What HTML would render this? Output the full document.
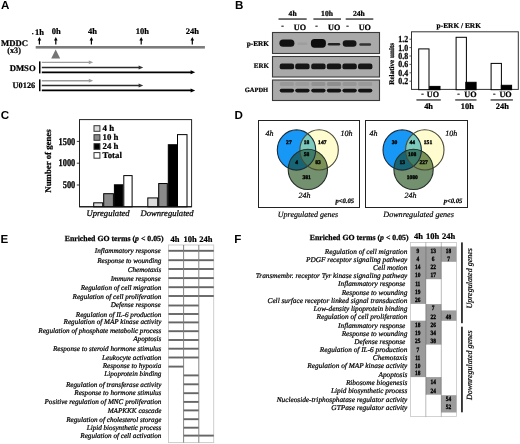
<!DOCTYPE html>
<html><head><meta charset="utf-8"><title>Figure</title>
<style>
html,body{margin:0;padding:0;background:#fff;}
body{width:520px;height:444px;overflow:hidden;}
svg{display:block;font-family:"Liberation Serif", serif;will-change:transform;}
</style></head>
<body>
<svg width="520" height="444" viewBox="0 0 520 444" text-rendering="geometricPrecision">
<rect width="520" height="444" fill="#fff"/>
<text x="1.0" y="9.0" font-size="11.6" font-weight="bold" font-family='"Liberation Sans", sans-serif'>A</text>
<text x="235.0" y="9.0" font-size="11.6" font-weight="bold" font-family='"Liberation Sans", sans-serif'>B</text>
<text x="0.7" y="119.2" font-size="11.6" font-weight="bold" font-family='"Liberation Sans", sans-serif'>C</text>
<text x="234.5" y="119.2" font-size="11.6" font-weight="bold" font-family='"Liberation Sans", sans-serif'>D</text>
<text x="0.4" y="242.7" font-size="11.6" font-weight="bold" font-family='"Liberation Sans", sans-serif'>E</text>
<text x="234.3" y="242.7" font-size="11.6" font-weight="bold" font-family='"Liberation Sans", sans-serif'>F</text>
<text x="39.6" y="35.4" font-size="8.5" font-weight="bold" text-anchor="middle" stroke="#000" stroke-width="0.22">1h</text>
<rect x="32.0" y="33.0" width="1.4" height="1.3" fill="#222" stroke="none" stroke-width="1"/>
<text x="56.3" y="34.1" font-size="8.5" font-weight="bold" text-anchor="middle" stroke="#000" stroke-width="0.22">0h</text>
<text x="92.4" y="34.1" font-size="8.5" font-weight="bold" text-anchor="middle" stroke="#000" stroke-width="0.22">4h</text>
<text x="142.3" y="34.1" font-size="8.5" font-weight="bold" text-anchor="middle" stroke="#000" stroke-width="0.22">10h</text>
<text x="192.3" y="34.1" font-size="8.5" font-weight="bold" text-anchor="middle" stroke="#000" stroke-width="0.22">24h</text>
<line x1="39.4" y1="39.5" x2="39.4" y2="44.6" stroke="#000" stroke-width="1.2"/>
<polygon points="37.6,40.5 41.199999999999996,40.5 39.4,36.9" fill="#000"/>
<line x1="55.8" y1="39.5" x2="55.8" y2="44.6" stroke="#000" stroke-width="1.2"/>
<polygon points="54.0,40.5 57.599999999999994,40.5 55.8,36.9" fill="#000"/>
<line x1="91.4" y1="39.5" x2="91.4" y2="44.6" stroke="#000" stroke-width="1.2"/>
<polygon points="89.60000000000001,40.5 93.2,40.5 91.4,36.9" fill="#000"/>
<line x1="141.2" y1="39.5" x2="141.2" y2="44.6" stroke="#000" stroke-width="1.2"/>
<polygon points="139.39999999999998,40.5 143.0,40.5 141.2,36.9" fill="#000"/>
<line x1="192.3" y1="39.5" x2="192.3" y2="44.6" stroke="#000" stroke-width="1.2"/>
<polygon points="190.5,40.5 194.10000000000002,40.5 192.3,36.9" fill="#000"/>
<rect x="35.7" y="46.0" width="169.2" height="2.6" fill="#7c7c7c" stroke="none" stroke-width="1"/>
<text x="1.0" y="46.1" font-size="8.7" font-weight="bold" stroke="#000" stroke-width="0.22">MDDC</text>
<text x="14.1" y="52.6" font-size="8.2" font-weight="bold" text-anchor="middle" stroke="#000" stroke-width="0.22">(x3)</text>
<polygon points="51.2,58.4 60.2,58.4 55.7,49.6" fill="#747474"/>
<text x="35.7" y="70.9" font-size="8.7" font-weight="bold" text-anchor="end" stroke="#000" stroke-width="0.22">DMSO</text>
<text x="35.2" y="88.2" font-size="8.3" font-weight="bold" text-anchor="end" stroke="#000" stroke-width="0.22">U0126</text>
<rect x="39.0" y="61.4" width="1.5" height="12.000000000000007" fill="#000" stroke="none" stroke-width="1"/>
<line x1="41.8" y1="62.35" x2="89.6" y2="62.35" stroke="#9c9c9c" stroke-width="1.4"/>
<polygon points="88.8,60.45 88.8,64.25 93.2,62.35" fill="#9c9c9c"/>
<line x1="41.8" y1="67.5" x2="139.5" y2="67.5" stroke="#2a2a2a" stroke-width="1.4"/>
<polygon points="138.6,65.5 138.6,69.5 143.2,67.5" fill="#333"/>
<line x1="41.8" y1="72.35" x2="191.5" y2="72.35" stroke="#000" stroke-width="1.6"/>
<polygon points="190.6,70.35 190.6,74.35 195.2,72.35" fill="#000"/>
<rect x="39.0" y="79.4" width="1.5" height="11.799999999999997" fill="#000" stroke="none" stroke-width="1"/>
<line x1="41.8" y1="80.7" x2="89.6" y2="80.7" stroke="#9c9c9c" stroke-width="1.4"/>
<polygon points="88.8,78.8 88.8,82.60000000000001 93.2,80.7" fill="#9c9c9c"/>
<line x1="41.8" y1="85.45" x2="139.5" y2="85.45" stroke="#2a2a2a" stroke-width="1.4"/>
<polygon points="138.6,83.45 138.6,87.45 143.2,85.45" fill="#333"/>
<line x1="41.8" y1="90.4" x2="191.5" y2="90.4" stroke="#000" stroke-width="1.6"/>
<polygon points="190.6,88.4 190.6,92.4 195.2,90.4" fill="#000"/>
<text x="292.6" y="15.8" font-size="7.6" font-weight="bold" text-anchor="middle" stroke="#000" stroke-width="0.22">4h</text>
<text x="327.0" y="15.8" font-size="7.6" font-weight="bold" text-anchor="middle" stroke="#000" stroke-width="0.22">10h</text>
<text x="358.8" y="15.8" font-size="7.6" font-weight="bold" text-anchor="middle" stroke="#000" stroke-width="0.22">24h</text>
<rect x="278.5" y="18.3" width="28.19999999999999" height="1.5" fill="#444" stroke="none" stroke-width="1"/>
<rect x="313.4" y="18.3" width="27.600000000000023" height="1.5" fill="#444" stroke="none" stroke-width="1"/>
<rect x="345.7" y="18.3" width="27.600000000000023" height="1.5" fill="#444" stroke="none" stroke-width="1"/>
<text x="282.6" y="28.3" font-size="7.6" font-weight="bold" text-anchor="middle" stroke="#000" stroke-width="0.22">-</text>
<text x="316.5" y="28.3" font-size="7.6" font-weight="bold" text-anchor="middle" stroke="#000" stroke-width="0.22">-</text>
<text x="347.4" y="28.3" font-size="7.6" font-weight="bold" text-anchor="middle" stroke="#000" stroke-width="0.22">-</text>
<text x="300.0" y="29.7" font-size="8.2" font-weight="bold" text-anchor="middle" stroke="#000" stroke-width="0.22">UO</text>
<text x="334.2" y="29.7" font-size="8.2" font-weight="bold" text-anchor="middle" stroke="#000" stroke-width="0.22">UO</text>
<text x="364.8" y="29.7" font-size="8.2" font-weight="bold" text-anchor="middle" stroke="#000" stroke-width="0.22">UO</text>
<rect x="272.5" y="32.5" width="107.0" height="21.0" fill="#a9a9a9" stroke="#3a3a3a" stroke-width="1.1"/>
<rect x="272.5" y="56.5" width="107.0" height="20.5" fill="#a9a9a9" stroke="#3a3a3a" stroke-width="1.1"/>
<rect x="272.5" y="80.0" width="107.0" height="20.5" fill="#a9a9a9" stroke="#3a3a3a" stroke-width="1.1"/>
<text x="269.0" y="46.0" font-size="7.3" font-weight="bold" text-anchor="end" stroke="#000" stroke-width="0.22">p-ERK</text>
<text x="269.0" y="67.8" font-size="7.0" font-weight="bold" text-anchor="end" stroke="#000" stroke-width="0.22">ERK</text>
<text x="268.2" y="91.6" font-size="6.5" font-weight="bold" text-anchor="end" stroke="#000" stroke-width="0.22">GAPDH</text>
<rect x="279.4" y="39.6" width="15.0" height="7.2" rx="3.6" ry="3.6" fill="#111" opacity="1.0"/>
<rect x="297.4" y="42.599999999999994" width="10.0" height="2.4" rx="1.2" ry="1.2" fill="#9a9a9a" opacity="0.7"/>
<rect x="310.9" y="39.1" width="15.0" height="8.6" rx="3.6" ry="3.6" fill="#0c0c0c" opacity="1.0"/>
<rect x="327.8" y="42.900000000000006" width="12.4" height="2.6" rx="1.3" ry="1.3" fill="#222" opacity="1.0"/>
<rect x="342.70000000000005" y="40.3" width="13.8" height="6.4" rx="3.2" ry="3.2" fill="#151515" opacity="1.0"/>
<rect x="359.3" y="43.15" width="11.8" height="2.5" rx="1.25" ry="1.25" fill="#333" opacity="1.0"/>
<rect x="279.7" y="63.45" width="14.4" height="5.9" rx="2.2" ry="2.2" fill="#161616" opacity="1.0"/>
<rect x="295.2" y="63.45" width="14.4" height="5.9" rx="2.2" ry="2.2" fill="#161616" opacity="1.0"/>
<rect x="311.2" y="63.45" width="14.4" height="5.9" rx="2.2" ry="2.2" fill="#161616" opacity="1.0"/>
<rect x="326.8" y="63.45" width="14.4" height="5.9" rx="2.2" ry="2.2" fill="#161616" opacity="1.0"/>
<rect x="342.40000000000003" y="63.45" width="14.4" height="5.9" rx="2.2" ry="2.2" fill="#161616" opacity="1.0"/>
<rect x="358.0" y="63.45" width="14.4" height="5.9" rx="2.2" ry="2.2" fill="#161616" opacity="1.0"/>
<rect x="279.9" y="82.1" width="14.0" height="3.8" rx="1.5" ry="1.5" fill="#999" opacity="1.0"/>
<rect x="295.4" y="82.1" width="14.0" height="3.8" rx="1.5" ry="1.5" fill="#9c9c9c" opacity="1.0"/>
<rect x="311.4" y="82.1" width="14.0" height="3.8" rx="1.5" ry="1.5" fill="#929292" opacity="1.0"/>
<rect x="327.0" y="82.1" width="14.0" height="3.8" rx="1.5" ry="1.5" fill="#8e8e8e" opacity="1.0"/>
<rect x="342.6" y="82.1" width="14.0" height="3.8" rx="1.5" ry="1.5" fill="#969696" opacity="1.0"/>
<rect x="358.2" y="82.1" width="14.0" height="3.8" rx="1.5" ry="1.5" fill="#9a9a9a" opacity="1.0"/>
<rect x="279.7" y="88.8" width="14.4" height="3.6" rx="1.8" ry="1.8" fill="#121212" opacity="1.0"/>
<rect x="295.2" y="88.8" width="14.4" height="3.6" rx="1.8" ry="1.8" fill="#121212" opacity="1.0"/>
<rect x="311.2" y="88.8" width="14.4" height="3.6" rx="1.8" ry="1.8" fill="#121212" opacity="1.0"/>
<rect x="326.8" y="88.8" width="14.4" height="3.6" rx="1.8" ry="1.8" fill="#121212" opacity="1.0"/>
<rect x="342.40000000000003" y="88.8" width="14.4" height="3.6" rx="1.8" ry="1.8" fill="#121212" opacity="1.0"/>
<rect x="358.0" y="88.8" width="14.4" height="3.6" rx="1.8" ry="1.8" fill="#121212" opacity="1.0"/>
<text x="458.8" y="28.3" font-size="7.4" font-weight="bold" text-anchor="middle" stroke="#000" stroke-width="0.22">p-ERK / ERK</text>
<rect x="411.5" y="31.8" width="106.8" height="57.6" fill="#fff" stroke="#333" stroke-width="1"/>
<text transform="translate(408.2,42.20) scale(1,1.17)" font-size="7.9" font-weight="bold" text-anchor="end" stroke="#000" stroke-width="0.22">1.2</text>
<line x1="409.4" y1="39.199999999999996" x2="411.5" y2="39.199999999999996" stroke="#333" stroke-width="0.8"/>
<text transform="translate(408.2,50.60) scale(1,1.17)" font-size="7.9" font-weight="bold" text-anchor="end" stroke="#000" stroke-width="0.22">1.0</text>
<line x1="409.4" y1="47.599999999999994" x2="411.5" y2="47.599999999999994" stroke="#333" stroke-width="0.8"/>
<text transform="translate(408.2,59.00) scale(1,1.17)" font-size="7.9" font-weight="bold" text-anchor="end" stroke="#000" stroke-width="0.22">0.8</text>
<line x1="409.4" y1="55.99999999999999" x2="411.5" y2="55.99999999999999" stroke="#333" stroke-width="0.8"/>
<text transform="translate(408.2,67.40) scale(1,1.17)" font-size="7.9" font-weight="bold" text-anchor="end" stroke="#000" stroke-width="0.22">0.6</text>
<line x1="409.4" y1="64.39999999999999" x2="411.5" y2="64.39999999999999" stroke="#333" stroke-width="0.8"/>
<text transform="translate(408.2,75.80) scale(1,1.17)" font-size="7.9" font-weight="bold" text-anchor="end" stroke="#000" stroke-width="0.22">0.4</text>
<line x1="409.4" y1="72.8" x2="411.5" y2="72.8" stroke="#333" stroke-width="0.8"/>
<text transform="translate(408.2,84.20) scale(1,1.17)" font-size="7.9" font-weight="bold" text-anchor="end" stroke="#000" stroke-width="0.22">0.2</text>
<line x1="409.4" y1="81.19999999999999" x2="411.5" y2="81.19999999999999" stroke="#333" stroke-width="0.8"/>
<text transform="translate(393.6,63.8) rotate(-90)" font-size="7.15" font-weight="bold" text-anchor="middle" stroke="#000" stroke-width="0.22">Relative units</text>
<rect x="418.7" y="48.9" width="10.3" height="40.800000000000004" fill="#fff" stroke="#000" stroke-width="1"/>
<rect x="429.7" y="86.4" width="10.3" height="3.299999999999997" fill="#000" stroke="#000" stroke-width="1"/>
<rect x="456.1" y="37.3" width="10.3" height="52.400000000000006" fill="#fff" stroke="#000" stroke-width="1"/>
<rect x="465.8" y="82.3" width="10.3" height="7.400000000000006" fill="#000" stroke="#000" stroke-width="1"/>
<rect x="491.1" y="63.4" width="10.3" height="26.300000000000004" fill="#fff" stroke="#000" stroke-width="1"/>
<rect x="501.3" y="85.3" width="10.3" height="4.400000000000006" fill="#000" stroke="#000" stroke-width="1"/>
<text x="422.5" y="95.9" font-size="7.6" font-weight="bold" text-anchor="middle" stroke="#000" stroke-width="0.22">-</text>
<text x="433.0" y="97.4" font-size="8.2" font-weight="bold" text-anchor="middle" stroke="#000" stroke-width="0.22">UO</text>
<rect x="416.4" y="99.35" width="24.400000000000034" height="1.2" fill="#222" stroke="none" stroke-width="1"/>
<text x="428.6" y="109.0" font-size="8.4" font-weight="bold" text-anchor="middle" stroke="#000" stroke-width="0.22">4h</text>
<text x="458.6" y="95.9" font-size="7.6" font-weight="bold" text-anchor="middle" stroke="#000" stroke-width="0.22">-</text>
<text x="470.5" y="97.4" font-size="8.2" font-weight="bold" text-anchor="middle" stroke="#000" stroke-width="0.22">UO</text>
<rect x="455.2" y="99.35" width="21.30000000000001" height="1.2" fill="#222" stroke="none" stroke-width="1"/>
<text x="467.3" y="109.0" font-size="8.4" font-weight="bold" text-anchor="middle" stroke="#000" stroke-width="0.22">10h</text>
<text x="494.2" y="95.9" font-size="7.6" font-weight="bold" text-anchor="middle" stroke="#000" stroke-width="0.22">-</text>
<text x="505.6" y="97.4" font-size="8.2" font-weight="bold" text-anchor="middle" stroke="#000" stroke-width="0.22">UO</text>
<rect x="490.6" y="99.35" width="22.299999999999955" height="1.2" fill="#222" stroke="none" stroke-width="1"/>
<text x="502.3" y="109.0" font-size="8.4" font-weight="bold" text-anchor="middle" stroke="#000" stroke-width="0.22">24h</text>
<rect x="79.5" y="119.6" width="112.1" height="87.2" fill="#fff" stroke="#222" stroke-width="1"/>
<text transform="translate(51.4,161) rotate(-90)" font-size="8.8" font-weight="bold" text-anchor="middle" stroke="#000" stroke-width="0.22">Number of genes</text>
<text transform="translate(75.3,144.50) scale(1,1.22)" font-size="8.4" font-weight="bold" text-anchor="end" stroke="#000" stroke-width="0.22">1500</text>
<line x1="76.8" y1="141.4" x2="79.5" y2="141.4" stroke="#222" stroke-width="0.9"/>
<text transform="translate(75.3,166.30) scale(1,1.22)" font-size="8.4" font-weight="bold" text-anchor="end" stroke="#000" stroke-width="0.22">1000</text>
<line x1="76.8" y1="163.20000000000002" x2="79.5" y2="163.20000000000002" stroke="#222" stroke-width="0.9"/>
<text transform="translate(75.3,188.10) scale(1,1.22)" font-size="8.4" font-weight="bold" text-anchor="end" stroke="#000" stroke-width="0.22">500</text>
<line x1="76.8" y1="185.0" x2="79.5" y2="185.0" stroke="#222" stroke-width="0.9"/>
<rect x="93.7" y="202.8092" width="9.0" height="3.9908000000000072" fill="#dcdcdc" stroke="#000" stroke-width="1"/>
<rect x="147.8" y="197.92600000000002" width="9.899999999999977" height="8.873999999999995" fill="#dcdcdc" stroke="#000" stroke-width="1"/>
<rect x="103.7" y="193.69680000000002" width="9.700000000000003" height="13.103199999999987" fill="#8a8a8a" stroke="#000" stroke-width="1"/>
<rect x="158.7" y="183.538" width="8.600000000000023" height="23.262" fill="#8a8a8a" stroke="#000" stroke-width="1"/>
<rect x="114.4" y="184.8024" width="8.399999999999991" height="21.997600000000006" fill="#000" stroke="#000" stroke-width="1"/>
<rect x="168.3" y="144.734" width="8.199999999999989" height="62.066" fill="#000" stroke="#000" stroke-width="1"/>
<rect x="123.8" y="175.6028" width="8.299999999999997" height="31.19720000000001" fill="#fff" stroke="#000" stroke-width="1"/>
<rect x="177.5" y="134.61880000000002" width="9.5" height="72.18119999999999" fill="#fff" stroke="#000" stroke-width="1"/>
<line x1="79.5" y1="206.8" x2="191.6" y2="206.8" stroke="#111" stroke-width="1.1"/>
<rect x="94.0" y="125.7" width="5.9" height="5.6" fill="#dcdcdc" stroke="#333" stroke-width="1"/>
<text x="102.6" y="131.4" font-size="8.8" font-weight="bold" stroke="#000" stroke-width="0.22">4 h</text>
<rect x="94.0" y="134.7" width="5.9" height="5.6" fill="#8a8a8a" stroke="#333" stroke-width="1"/>
<text x="102.6" y="140.39999999999998" font-size="8.8" font-weight="bold" stroke="#000" stroke-width="0.22">10 h</text>
<rect x="94.0" y="143.7" width="5.9" height="5.6" fill="#000" stroke="#333" stroke-width="1"/>
<text x="102.6" y="149.39999999999998" font-size="8.8" font-weight="bold" stroke="#000" stroke-width="0.22">24 h</text>
<rect x="94.0" y="152.6" width="5.9" height="5.6" fill="#fff" stroke="#333" stroke-width="1"/>
<text x="102.6" y="158.29999999999998" font-size="8.8" font-weight="bold" stroke="#000" stroke-width="0.22">Total</text>
<text x="108.1" y="215.6" font-size="8.6" font-style="italic" text-anchor="middle" stroke="#000" stroke-width="0.25">Upregulated</text>
<text x="167.1" y="215.6" font-size="8.6" font-style="italic" text-anchor="middle" stroke="#000" stroke-width="0.25">Downregulated</text>
<rect x="258.5" y="120.5" width="101.0" height="87.0" fill="#fff" stroke="#222" stroke-width="1"/>
<defs><clipPath id="v0b"><ellipse cx="296.5" cy="150.0" rx="19.2" ry="20.1" /></clipPath><clipPath id="v0y"><ellipse cx="319.1" cy="149.9" rx="19.2" ry="20.1" /></clipPath></defs>
<ellipse cx="296.5" cy="150.0" rx="19.2" ry="20.1" fill="#1898f6"/>
<ellipse cx="319.1" cy="149.9" rx="19.2" ry="20.1" fill="#fffdd0"/>
<ellipse cx="307.85" cy="169.4" rx="19.65" ry="20.15" fill="#73916f"/>
<g clip-path="url(#v0b)"><ellipse cx="319.1" cy="149.9" rx="19.2" ry="20.1" fill="#7ccabe"/></g>
<g clip-path="url(#v0b)"><ellipse cx="307.85" cy="169.4" rx="19.65" ry="20.15" fill="#176574"/></g>
<g clip-path="url(#v0y)"><ellipse cx="307.85" cy="169.4" rx="19.65" ry="20.15" fill="#7a9256"/></g>
<g clip-path="url(#v0b)"><g clip-path="url(#v0y)"><ellipse cx="307.85" cy="169.4" rx="19.65" ry="20.15" fill="#3c7c68"/></g></g>
<ellipse cx="296.5" cy="150.0" rx="19.2" ry="20.1" fill="none" stroke="#1c2c3c" stroke-width="1.1"/>
<ellipse cx="319.1" cy="149.9" rx="19.2" ry="20.1" fill="none" stroke="#4a4a36" stroke-width="1.1"/>
<ellipse cx="307.85" cy="169.4" rx="19.65" ry="20.15" fill="none" stroke="#25302a" stroke-width="1.1"/>
<text x="288.9" y="144.1" font-size="5.6" font-weight="bold" text-anchor="middle" stroke="#000" stroke-width="0.35">27</text>
<text x="306.5" y="144.20000000000002" font-size="5.6" font-weight="bold" text-anchor="middle" stroke="#000" stroke-width="0.35">18</text>
<text x="322.3" y="144.1" font-size="5.6" font-weight="bold" text-anchor="middle" stroke="#000" stroke-width="0.35">147</text>
<text x="306.5" y="156.1" font-size="5.6" font-weight="bold" text-anchor="middle" stroke="#000" stroke-width="0.35">58</text>
<text x="296.6" y="163.70000000000002" font-size="5.6" font-weight="bold" text-anchor="middle" stroke="#000" stroke-width="0.35">4</text>
<text x="318.0" y="163.9" font-size="5.6" font-weight="bold" text-anchor="middle" stroke="#000" stroke-width="0.35">83</text>
<text x="306.6" y="179.20000000000002" font-size="5.6" font-weight="bold" text-anchor="middle" stroke="#000" stroke-width="0.35">381</text>
<text x="265.4" y="136.0" font-size="8.0" font-style="italic" stroke="#000" stroke-width="0.22">4h</text>
<text x="352.6" y="135.6" font-size="8.0" font-style="italic" text-anchor="end" stroke="#000" stroke-width="0.22">10h</text>
<text x="304.6" y="198.2" font-size="8.0" font-style="italic" text-anchor="middle" stroke="#000" stroke-width="0.22">24h</text>
<text x="354.0" y="203.4" font-size="6.6" font-weight="bold" font-style="italic" text-anchor="end" stroke="#000" stroke-width="0.22">p&lt;0.05</text>
<rect x="365.5" y="120.5" width="102.0" height="87.0" fill="#fff" stroke="#222" stroke-width="1"/>
<defs><clipPath id="v105b"><ellipse cx="402.2" cy="150.0" rx="19.2" ry="20.1" /></clipPath><clipPath id="v105y"><ellipse cx="424.8" cy="149.9" rx="19.2" ry="20.1" /></clipPath></defs>
<ellipse cx="402.2" cy="150.0" rx="19.2" ry="20.1" fill="#1898f6"/>
<ellipse cx="424.8" cy="149.9" rx="19.2" ry="20.1" fill="#fffdd0"/>
<ellipse cx="413.55" cy="169.4" rx="19.65" ry="20.15" fill="#73916f"/>
<g clip-path="url(#v105b)"><ellipse cx="424.8" cy="149.9" rx="19.2" ry="20.1" fill="#7ccabe"/></g>
<g clip-path="url(#v105b)"><ellipse cx="413.55" cy="169.4" rx="19.65" ry="20.15" fill="#176574"/></g>
<g clip-path="url(#v105y)"><ellipse cx="413.55" cy="169.4" rx="19.65" ry="20.15" fill="#7a9256"/></g>
<g clip-path="url(#v105b)"><g clip-path="url(#v105y)"><ellipse cx="413.55" cy="169.4" rx="19.65" ry="20.15" fill="#3c7c68"/></g></g>
<ellipse cx="402.2" cy="150.0" rx="19.2" ry="20.1" fill="none" stroke="#1c2c3c" stroke-width="1.1"/>
<ellipse cx="424.8" cy="149.9" rx="19.2" ry="20.1" fill="none" stroke="#4a4a36" stroke-width="1.1"/>
<ellipse cx="413.55" cy="169.4" rx="19.65" ry="20.15" fill="none" stroke="#25302a" stroke-width="1.1"/>
<text x="394.59999999999997" y="144.1" font-size="5.6" font-weight="bold" text-anchor="middle" stroke="#000" stroke-width="0.35">30</text>
<text x="412.2" y="144.20000000000002" font-size="5.6" font-weight="bold" text-anchor="middle" stroke="#000" stroke-width="0.35">44</text>
<text x="428.0" y="144.1" font-size="5.6" font-weight="bold" text-anchor="middle" stroke="#000" stroke-width="0.35">151</text>
<text x="412.2" y="156.1" font-size="5.6" font-weight="bold" text-anchor="middle" stroke="#000" stroke-width="0.35">108</text>
<text x="402.3" y="163.70000000000002" font-size="5.6" font-weight="bold" text-anchor="middle" stroke="#000" stroke-width="0.35">13</text>
<text x="423.7" y="163.9" font-size="5.6" font-weight="bold" text-anchor="middle" stroke="#000" stroke-width="0.35">227</text>
<text x="412.3" y="179.20000000000002" font-size="5.6" font-weight="bold" text-anchor="middle" stroke="#000" stroke-width="0.35">1080</text>
<text x="369.4" y="135.6" font-size="8.0" font-style="italic" stroke="#000" stroke-width="0.22">4h</text>
<text x="457.2" y="135.9" font-size="8.0" font-style="italic" text-anchor="end" stroke="#000" stroke-width="0.22">10h</text>
<text x="410.6" y="198.2" font-size="8.0" font-style="italic" text-anchor="middle" stroke="#000" stroke-width="0.22">24h</text>
<text x="462.3" y="203.4" font-size="6.6" font-weight="bold" font-style="italic" text-anchor="end" stroke="#000" stroke-width="0.22">p&lt;0.05</text>
<text x="308.0" y="216.6" font-size="8.0" font-style="italic" text-anchor="middle" stroke="#000" stroke-width="0.18">Upregulated genes</text>
<text x="418.6" y="216.6" font-size="8.1" font-style="italic" text-anchor="middle" stroke="#000" stroke-width="0.18">Downregulated genes</text>
<text x="163.6" y="241.4" font-size="7.8" font-weight="bold" text-anchor="end" stroke="#000" stroke-width="0.25">Enriched GO terms (<tspan font-style="italic">p</tspan> &lt; 0.05)</text>
<text x="175.1" y="241.6" font-size="8.5" font-weight="bold" text-anchor="middle" stroke="#000" stroke-width="0.22">4h</text>
<text x="190.1" y="241.6" font-size="8.5" font-weight="bold" text-anchor="middle" stroke="#000" stroke-width="0.22">10h</text>
<text x="205.9" y="241.6" font-size="8.5" font-weight="bold" text-anchor="middle" stroke="#000" stroke-width="0.22">24h</text>
<rect x="168.5" y="245.0" width="45.2" height="197.6" fill="#fff" stroke="#c8c8c8" stroke-width="0.9"/>
<text x="160.6" y="252.8" font-size="7.15" font-style="italic" text-anchor="end" stroke="#000" stroke-width="0.22">Inflammatory response</text>
<rect x="168.4" y="249.85000000000002" width="15.199999999999989" height="1.9" fill="#666" stroke="none" stroke-width="1"/>
<rect x="183.6" y="249.85000000000002" width="15.200000000000017" height="1.9" fill="#666" stroke="none" stroke-width="1"/>
<rect x="198.8" y="249.85000000000002" width="15.0" height="1.9" fill="#666" stroke="none" stroke-width="1"/>
<text x="161.4" y="262.8" font-size="7.15" font-style="italic" text-anchor="end" stroke="#000" stroke-width="0.22">Response to wounding</text>
<rect x="168.4" y="259.25" width="15.199999999999989" height="1.9" fill="#666" stroke="none" stroke-width="1"/>
<rect x="183.6" y="259.25" width="15.200000000000017" height="1.9" fill="#666" stroke="none" stroke-width="1"/>
<rect x="198.8" y="259.25" width="15.0" height="1.9" fill="#666" stroke="none" stroke-width="1"/>
<text x="161.4" y="272.0" font-size="7.15" font-style="italic" text-anchor="end" stroke="#000" stroke-width="0.22">Chemotaxis</text>
<rect x="168.4" y="268.05" width="15.199999999999989" height="1.9" fill="#666" stroke="none" stroke-width="1"/>
<rect x="183.6" y="268.05" width="15.200000000000017" height="1.9" fill="#666" stroke="none" stroke-width="1"/>
<rect x="198.8" y="268.05" width="15.0" height="1.9" fill="#666" stroke="none" stroke-width="1"/>
<text x="160.6" y="281.2" font-size="7.15" font-style="italic" text-anchor="end" stroke="#000" stroke-width="0.22">Immune response</text>
<rect x="168.4" y="277.15000000000003" width="15.199999999999989" height="1.9" fill="#666" stroke="none" stroke-width="1"/>
<rect x="183.6" y="277.15000000000003" width="15.200000000000017" height="1.9" fill="#666" stroke="none" stroke-width="1"/>
<rect x="198.8" y="277.15000000000003" width="15.0" height="1.9" fill="#666" stroke="none" stroke-width="1"/>
<text x="161.4" y="290.2" font-size="7.15" font-style="italic" text-anchor="end" stroke="#000" stroke-width="0.22">Regulation of cell migration</text>
<rect x="168.4" y="286.25" width="15.199999999999989" height="1.9" fill="#666" stroke="none" stroke-width="1"/>
<rect x="183.6" y="286.25" width="15.200000000000017" height="1.9" fill="#666" stroke="none" stroke-width="1"/>
<rect x="198.8" y="286.25" width="15.0" height="1.9" fill="#666" stroke="none" stroke-width="1"/>
<text x="161.4" y="298.8" font-size="7.15" font-style="italic" text-anchor="end" stroke="#000" stroke-width="0.22">Regulation of cell proliferation</text>
<rect x="168.4" y="295.05" width="15.199999999999989" height="1.9" fill="#666" stroke="none" stroke-width="1"/>
<rect x="183.6" y="295.05" width="15.200000000000017" height="1.9" fill="#666" stroke="none" stroke-width="1"/>
<rect x="198.8" y="295.05" width="15.0" height="1.9" fill="#666" stroke="none" stroke-width="1"/>
<text x="160.6" y="307.3" font-size="7.15" font-style="italic" text-anchor="end" stroke="#000" stroke-width="0.22">Defense response</text>
<rect x="168.4" y="304.55" width="15.199999999999989" height="1.9" fill="#666" stroke="none" stroke-width="1"/>
<rect x="183.6" y="304.55" width="15.200000000000017" height="1.9" fill="#666" stroke="none" stroke-width="1"/>
<text x="161.4" y="316.6" font-size="7.15" font-style="italic" text-anchor="end" stroke="#000" stroke-width="0.22">Regulation of IL-6 production</text>
<rect x="168.4" y="313.05" width="15.199999999999989" height="1.9" fill="#666" stroke="none" stroke-width="1"/>
<rect x="183.6" y="313.05" width="15.200000000000017" height="1.9" fill="#666" stroke="none" stroke-width="1"/>
<text x="161.4" y="324.3" font-size="7.15" font-style="italic" text-anchor="end" stroke="#000" stroke-width="0.22">Regulation of MAP kinase activity</text>
<rect x="168.4" y="321.45" width="15.199999999999989" height="1.9" fill="#666" stroke="none" stroke-width="1"/>
<rect x="183.6" y="321.45" width="15.200000000000017" height="1.9" fill="#666" stroke="none" stroke-width="1"/>
<text x="161.4" y="332.6" font-size="7.15" font-style="italic" text-anchor="end" stroke="#000" stroke-width="0.22">Regulation of phosphate metabolic process</text>
<rect x="168.4" y="330.25" width="15.199999999999989" height="1.9" fill="#666" stroke="none" stroke-width="1"/>
<rect x="183.6" y="330.25" width="15.200000000000017" height="1.9" fill="#666" stroke="none" stroke-width="1"/>
<text x="161.4" y="341.3" font-size="7.15" font-style="italic" text-anchor="end" stroke="#000" stroke-width="0.22">Apoptosis</text>
<rect x="168.4" y="339.05" width="15.199999999999989" height="1.9" fill="#666" stroke="none" stroke-width="1"/>
<rect x="183.6" y="339.05" width="15.200000000000017" height="1.9" fill="#666" stroke="none" stroke-width="1"/>
<text x="161.4" y="350.7" font-size="7.15" font-style="italic" text-anchor="end" stroke="#000" stroke-width="0.22">Response to steroid hormone stimulus</text>
<rect x="168.4" y="347.75" width="15.199999999999989" height="1.9" fill="#666" stroke="none" stroke-width="1"/>
<rect x="183.6" y="347.75" width="15.200000000000017" height="1.9" fill="#666" stroke="none" stroke-width="1"/>
<text x="161.4" y="359.9" font-size="7.15" font-style="italic" text-anchor="end" stroke="#000" stroke-width="0.22">Leukocyte activation</text>
<rect x="168.4" y="356.55" width="15.199999999999989" height="1.9" fill="#666" stroke="none" stroke-width="1"/>
<rect x="183.6" y="356.55" width="15.200000000000017" height="1.9" fill="#666" stroke="none" stroke-width="1"/>
<text x="161.4" y="368.3" font-size="7.15" font-style="italic" text-anchor="end" stroke="#000" stroke-width="0.22">Response to hypoxia</text>
<rect x="168.4" y="365.65000000000003" width="15.199999999999989" height="1.9" fill="#666" stroke="none" stroke-width="1"/>
<text x="161.4" y="376.4" font-size="7.15" font-style="italic" text-anchor="end" stroke="#000" stroke-width="0.22">Lipoprotein binding</text>
<rect x="183.6" y="374.45" width="15.200000000000017" height="1.9" fill="#666" stroke="none" stroke-width="1"/>
<text x="161.4" y="386.5" font-size="7.15" font-style="italic" text-anchor="end" stroke="#000" stroke-width="0.22">Regulation of transferase activity</text>
<rect x="183.6" y="383.35" width="15.200000000000017" height="1.9" fill="#666" stroke="none" stroke-width="1"/>
<text x="161.4" y="394.6" font-size="7.15" font-style="italic" text-anchor="end" stroke="#000" stroke-width="0.22">Response to hormone stimulus</text>
<rect x="183.6" y="392.25" width="15.200000000000017" height="1.9" fill="#666" stroke="none" stroke-width="1"/>
<text x="161.4" y="404.0" font-size="7.15" font-style="italic" text-anchor="end" stroke="#000" stroke-width="0.22">Positive regulation of MNC proliferation</text>
<rect x="183.6" y="400.95" width="15.200000000000017" height="1.9" fill="#666" stroke="none" stroke-width="1"/>
<text x="161.4" y="412.8" font-size="7.15" font-style="italic" text-anchor="end" stroke="#000" stroke-width="0.22">MAPKKK cascade</text>
<rect x="183.6" y="409.45" width="15.200000000000017" height="1.9" fill="#666" stroke="none" stroke-width="1"/>
<text x="161.4" y="421.6" font-size="7.15" font-style="italic" text-anchor="end" stroke="#000" stroke-width="0.22">Regulation of cholesterol storage</text>
<rect x="183.6" y="418.25" width="15.200000000000017" height="1.9" fill="#666" stroke="none" stroke-width="1"/>
<text x="161.4" y="429.7" font-size="7.15" font-style="italic" text-anchor="end" stroke="#000" stroke-width="0.22">Lipid biosynthetic process</text>
<rect x="183.6" y="426.75" width="15.200000000000017" height="1.9" fill="#666" stroke="none" stroke-width="1"/>
<text x="161.4" y="437.8" font-size="7.15" font-style="italic" text-anchor="end" stroke="#000" stroke-width="0.22">Regulation of cell activation</text>
<rect x="183.6" y="434.65000000000003" width="15.200000000000017" height="1.9" fill="#666" stroke="none" stroke-width="1"/>
<rect x="198.8" y="434.65000000000003" width="15.0" height="1.9" fill="#666" stroke="none" stroke-width="1"/>
<line x1="183.6" y1="245.0" x2="183.6" y2="442.6" stroke="#777" stroke-width="0.9"/>
<line x1="198.8" y1="245.0" x2="198.8" y2="442.6" stroke="#777" stroke-width="0.9"/>
<text x="408.6" y="240.4" font-size="7.8" font-weight="bold" text-anchor="end" stroke="#000" stroke-width="0.25">Enriched GO terms (<tspan font-style="italic">p</tspan> &lt; 0.05)</text>
<text x="418.4" y="239.0" font-size="8.5" font-weight="bold" text-anchor="middle" stroke="#000" stroke-width="0.22">4h</text>
<text x="432.7" y="239.0" font-size="8.5" font-weight="bold" text-anchor="middle" stroke="#000" stroke-width="0.22">10h</text>
<text x="448.5" y="239.0" font-size="8.5" font-weight="bold" text-anchor="middle" stroke="#000" stroke-width="0.22">24h</text>
<rect x="410.5" y="242.5" width="46.0" height="174.0" fill="#fff" stroke="#c8c8c8" stroke-width="0.8"/>
<rect x="410.5" y="246.5" width="15.300000000000011" height="57.39999999999998" fill="#9c9c9c" stroke="none" stroke-width="1"/>
<rect x="410.5" y="320.7" width="15.300000000000011" height="56.400000000000034" fill="#9c9c9c" stroke="none" stroke-width="1"/>
<rect x="425.8" y="246.5" width="15.5" height="32.69999999999999" fill="#9c9c9c" stroke="none" stroke-width="1"/>
<rect x="425.8" y="304.1" width="15.5" height="40.5" fill="#9c9c9c" stroke="none" stroke-width="1"/>
<rect x="425.8" y="377.1" width="15.5" height="17.599999999999966" fill="#9c9c9c" stroke="none" stroke-width="1"/>
<rect x="441.3" y="246.5" width="15.199999999999989" height="15.300000000000011" fill="#9c9c9c" stroke="none" stroke-width="1"/>
<rect x="441.3" y="310.4" width="15.199999999999989" height="10.400000000000034" fill="#9c9c9c" stroke="none" stroke-width="1"/>
<rect x="441.3" y="395.2" width="15.199999999999989" height="17.30000000000001" fill="#9c9c9c" stroke="none" stroke-width="1"/>
<text x="407.3" y="254.0" font-size="7.3" font-style="italic" text-anchor="end" stroke="#000" stroke-width="0.22">Regulation of cell migration</text>
<text transform="translate(417.75,252.50) scale(0.93,1.12)" font-size="5.8" font-weight="bold" text-anchor="middle" stroke="#000" stroke-width="0.3">9</text>
<text transform="translate(433.15,252.50) scale(0.93,1.12)" font-size="5.8" font-weight="bold" text-anchor="middle" stroke="#000" stroke-width="0.3">13</text>
<text transform="translate(448.50,252.50) scale(0.93,1.12)" font-size="5.8" font-weight="bold" text-anchor="middle" stroke="#000" stroke-width="0.3">18</text>
<text x="407.3" y="262.0" font-size="7.3" font-style="italic" text-anchor="end" stroke="#000" stroke-width="0.22">PDGF receptor signaling pathway</text>
<text transform="translate(417.75,261.00) scale(0.93,1.12)" font-size="5.8" font-weight="bold" text-anchor="middle" stroke="#000" stroke-width="0.3">4</text>
<text transform="translate(433.15,261.00) scale(0.93,1.12)" font-size="5.8" font-weight="bold" text-anchor="middle" stroke="#000" stroke-width="0.3">6</text>
<text transform="translate(448.50,261.00) scale(0.93,1.12)" font-size="5.8" font-weight="bold" text-anchor="middle" stroke="#000" stroke-width="0.3">7</text>
<text x="407.3" y="270.0" font-size="7.3" font-style="italic" text-anchor="end" stroke="#000" stroke-width="0.22">Cell motion</text>
<text transform="translate(417.75,268.90) scale(0.93,1.12)" font-size="5.8" font-weight="bold" text-anchor="middle" stroke="#000" stroke-width="0.3">14</text>
<text transform="translate(433.15,268.90) scale(0.93,1.12)" font-size="5.8" font-weight="bold" text-anchor="middle" stroke="#000" stroke-width="0.3">22</text>
<text x="407.3" y="278.1" font-size="7.3" font-style="italic" text-anchor="end" stroke="#000" stroke-width="0.22">Transmembr. receptor Tyr kinase signaling pathway</text>
<text transform="translate(417.75,276.80) scale(0.93,1.12)" font-size="5.8" font-weight="bold" text-anchor="middle" stroke="#000" stroke-width="0.3">10</text>
<text transform="translate(433.15,276.80) scale(0.93,1.12)" font-size="5.8" font-weight="bold" text-anchor="middle" stroke="#000" stroke-width="0.3">17</text>
<text x="405.3" y="286.2" font-size="7.3" font-style="italic" text-anchor="end" stroke="#000" stroke-width="0.22">Inflammatory response</text>
<text transform="translate(417.75,285.70) scale(0.93,1.12)" font-size="5.8" font-weight="bold" text-anchor="middle" stroke="#000" stroke-width="0.3">11</text>
<text x="407.3" y="294.5" font-size="7.3" font-style="italic" text-anchor="end" stroke="#000" stroke-width="0.22">Response to wounding</text>
<text transform="translate(417.75,293.80) scale(0.93,1.12)" font-size="5.8" font-weight="bold" text-anchor="middle" stroke="#000" stroke-width="0.3">19</text>
<text x="407.3" y="302.6" font-size="7.3" font-style="italic" text-anchor="end" stroke="#000" stroke-width="0.22">Cell surface receptor linked signal transduction</text>
<text transform="translate(417.75,302.20) scale(0.93,1.12)" font-size="5.8" font-weight="bold" text-anchor="middle" stroke="#000" stroke-width="0.3">26</text>
<text x="407.3" y="310.9" font-size="7.3" font-style="italic" text-anchor="end" stroke="#000" stroke-width="0.22">Low-density lipoprotein binding</text>
<text transform="translate(433.15,310.00) scale(0.93,1.12)" font-size="5.8" font-weight="bold" text-anchor="middle" stroke="#000" stroke-width="0.3">7</text>
<text x="407.3" y="319.3" font-size="7.3" font-style="italic" text-anchor="end" stroke="#000" stroke-width="0.22">Regulation of cell proliferation</text>
<text transform="translate(433.15,318.60) scale(0.93,1.12)" font-size="5.8" font-weight="bold" text-anchor="middle" stroke="#000" stroke-width="0.3">22</text>
<text transform="translate(448.50,318.60) scale(0.93,1.12)" font-size="5.8" font-weight="bold" text-anchor="middle" stroke="#000" stroke-width="0.3">48</text>
<text x="405.3" y="327.7" font-size="7.3" font-style="italic" text-anchor="end" stroke="#000" stroke-width="0.22">Inflammatory response</text>
<text transform="translate(417.75,327.00) scale(0.93,1.12)" font-size="5.8" font-weight="bold" text-anchor="middle" stroke="#000" stroke-width="0.3">18</text>
<text transform="translate(433.15,327.00) scale(0.93,1.12)" font-size="5.8" font-weight="bold" text-anchor="middle" stroke="#000" stroke-width="0.3">26</text>
<text x="407.3" y="335.7" font-size="7.3" font-style="italic" text-anchor="end" stroke="#000" stroke-width="0.22">Response to wounding</text>
<text transform="translate(417.75,335.10) scale(0.93,1.12)" font-size="5.8" font-weight="bold" text-anchor="middle" stroke="#000" stroke-width="0.3">19</text>
<text transform="translate(433.15,335.10) scale(0.93,1.12)" font-size="5.8" font-weight="bold" text-anchor="middle" stroke="#000" stroke-width="0.3">34</text>
<text x="405.3" y="343.8" font-size="7.3" font-style="italic" text-anchor="end" stroke="#000" stroke-width="0.22">Defense response</text>
<text transform="translate(417.75,343.10) scale(0.93,1.12)" font-size="5.8" font-weight="bold" text-anchor="middle" stroke="#000" stroke-width="0.3">25</text>
<text transform="translate(433.15,343.10) scale(0.93,1.12)" font-size="5.8" font-weight="bold" text-anchor="middle" stroke="#000" stroke-width="0.3">38</text>
<text x="407.3" y="351.9" font-size="7.3" font-style="italic" text-anchor="end" stroke="#000" stroke-width="0.22">Regulation of IL-6 production</text>
<text transform="translate(417.75,351.90) scale(0.93,1.12)" font-size="5.8" font-weight="bold" text-anchor="middle" stroke="#000" stroke-width="0.3">7</text>
<text x="407.3" y="360.2" font-size="7.3" font-style="italic" text-anchor="end" stroke="#000" stroke-width="0.22">Chemotaxis</text>
<text transform="translate(417.75,359.50) scale(0.93,1.12)" font-size="5.8" font-weight="bold" text-anchor="middle" stroke="#000" stroke-width="0.3">11</text>
<text x="407.3" y="368.2" font-size="7.3" font-style="italic" text-anchor="end" stroke="#000" stroke-width="0.22">Regulation of MAP kinase activity</text>
<text transform="translate(417.75,367.60) scale(0.93,1.12)" font-size="5.8" font-weight="bold" text-anchor="middle" stroke="#000" stroke-width="0.3">10</text>
<text x="407.3" y="376.9" font-size="7.3" font-style="italic" text-anchor="end" stroke="#000" stroke-width="0.22">Apoptosis</text>
<text transform="translate(417.75,375.30) scale(0.93,1.12)" font-size="5.8" font-weight="bold" text-anchor="middle" stroke="#000" stroke-width="0.3">18</text>
<text x="407.3" y="385.3" font-size="7.3" font-style="italic" text-anchor="end" stroke="#000" stroke-width="0.22">Ribosome biogenesis</text>
<text transform="translate(433.15,384.20) scale(0.93,1.12)" font-size="5.8" font-weight="bold" text-anchor="middle" stroke="#000" stroke-width="0.3">14</text>
<text x="407.3" y="393.3" font-size="7.3" font-style="italic" text-anchor="end" stroke="#000" stroke-width="0.22">Lipid biosynthetic process</text>
<text transform="translate(433.15,392.80) scale(0.93,1.12)" font-size="5.8" font-weight="bold" text-anchor="middle" stroke="#000" stroke-width="0.3">24</text>
<text x="407.3" y="401.6" font-size="7.3" font-style="italic" text-anchor="end" stroke="#000" stroke-width="0.22">Nucleoside-triphosphatase regulator activity</text>
<text transform="translate(448.50,400.50) scale(0.93,1.12)" font-size="5.8" font-weight="bold" text-anchor="middle" stroke="#000" stroke-width="0.3">54</text>
<text x="407.3" y="409.8" font-size="7.3" font-style="italic" text-anchor="end" stroke="#000" stroke-width="0.22">GTPase regulator activity</text>
<text transform="translate(448.50,409.00) scale(0.93,1.12)" font-size="5.8" font-weight="bold" text-anchor="middle" stroke="#000" stroke-width="0.3">52</text>
<line x1="425.8" y1="242.5" x2="425.8" y2="416.5" stroke="#000" stroke-width="0.9" stroke-opacity="0.3"/>
<line x1="441.3" y1="242.5" x2="441.3" y2="416.5" stroke="#000" stroke-width="0.9" stroke-opacity="0.3"/>
<rect x="461.2" y="242.4" width="1.5" height="80.8" fill="#000" stroke="none" stroke-width="1"/>
<rect x="461.2" y="326.7" width="1.5" height="85.6" fill="#000" stroke="none" stroke-width="1"/>
<text transform="translate(471.6,278.3) rotate(-90)" font-size="8.0" font-style="italic" text-anchor="middle" stroke="#000" stroke-width="0.2">Upregulated genes</text>
<text transform="translate(471.6,365.2) rotate(-90)" font-size="8.0" font-style="italic" text-anchor="middle" stroke="#000" stroke-width="0.2">Downregulated genes</text>
</svg>
</body></html>
